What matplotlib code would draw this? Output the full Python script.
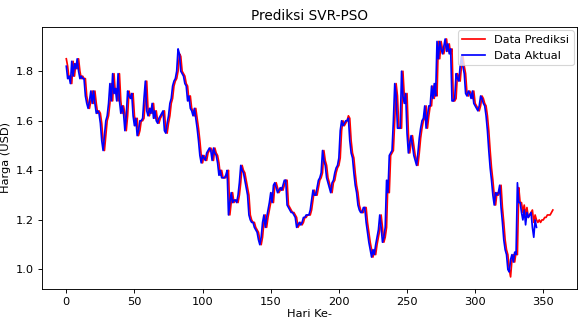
import numpy as np
import matplotlib
matplotlib.use("Agg")
import matplotlib.pyplot as plt

# harga aktual
aktual = [
    1.82, 1.77, 1.78, 1.75, 1.84, 1.78, 1.83, 1.81, 1.85, 1.80,
    1.77, 1.78, 1.77, 1.77, 1.70, 1.67, 1.65, 1.68, 1.72, 1.67,
    1.72, 1.67, 1.63, 1.64, 1.63, 1.59, 1.52, 1.48, 1.54, 1.60,
    1.62, 1.67, 1.75, 1.68, 1.79, 1.71, 1.73, 1.68, 1.79, 1.68,
    1.63, 1.66, 1.63, 1.56, 1.62, 1.72, 1.70, 1.69, 1.71, 1.62,
    1.58, 1.61, 1.54, 1.56, 1.60, 1.60, 1.61, 1.69, 1.76, 1.64,
    1.62, 1.65, 1.63, 1.67, 1.61, 1.64, 1.60, 1.59, 1.61, 1.62,
    1.63, 1.64, 1.56, 1.55, 1.59, 1.62, 1.67, 1.69, 1.74, 1.76,
    1.77, 1.80, 1.89, 1.87, 1.80, 1.79, 1.78, 1.75, 1.74, 1.68,
    1.70, 1.65, 1.64, 1.62, 1.65, 1.61, 1.57, 1.52, 1.46, 1.43,
    1.46, 1.45, 1.44, 1.47, 1.48, 1.49, 1.48, 1.44, 1.49, 1.47,
    1.46, 1.43, 1.38, 1.40, 1.37, 1.37, 1.37, 1.38, 1.40, 1.22,
    1.27, 1.31, 1.27, 1.28, 1.28, 1.27, 1.30, 1.35, 1.42, 1.40,
    1.39, 1.36, 1.33, 1.30, 1.22, 1.20, 1.19, 1.19, 1.17, 1.16,
    1.15, 1.12, 1.10, 1.13, 1.19, 1.22, 1.17, 1.21, 1.24, 1.27,
    1.31, 1.27, 1.34, 1.35, 1.33, 1.31, 1.32, 1.33, 1.32, 1.34,
    1.36, 1.36, 1.26, 1.25, 1.24, 1.23, 1.23, 1.22, 1.21, 1.17,
    1.18, 1.19, 1.18, 1.19, 1.21, 1.21, 1.22, 1.22, 1.22, 1.24,
    1.28, 1.32, 1.30, 1.30, 1.33, 1.36, 1.37, 1.39, 1.48, 1.44,
    1.42, 1.37, 1.35, 1.33, 1.31, 1.35, 1.36, 1.39, 1.41, 1.42,
    1.45, 1.56, 1.60, 1.58, 1.59, 1.60, 1.60, 1.61, 1.52, 1.47,
    1.45, 1.39, 1.34, 1.31, 1.26, 1.24, 1.23, 1.23, 1.25, 1.25,
    1.19, 1.15, 1.11, 1.08, 1.05, 1.08, 1.06, 1.10, 1.13, 1.16,
    1.22, 1.17, 1.11, 1.13, 1.17, 1.36, 1.31, 1.46, 1.47, 1.48,
    1.60, 1.75, 1.70, 1.57, 1.57, 1.57, 1.80, 1.70, 1.67, 1.71,
    1.55, 1.47, 1.51, 1.54, 1.50, 1.46, 1.44, 1.42, 1.47, 1.53,
    1.57, 1.60, 1.61, 1.66, 1.57, 1.62, 1.66, 1.66, 1.74, 1.69,
    1.75, 1.70, 1.92, 1.85, 1.92, 1.89, 1.87, 1.90, 1.93, 1.88,
    1.91, 1.87, 1.89, 1.68, 1.68, 1.69, 1.79, 1.77, 1.76, 1.82,
    1.86, 1.82, 1.79, 1.71, 1.70, 1.72, 1.71, 1.69, 1.72, 1.67,
    1.66, 1.65, 1.64, 1.66, 1.70, 1.69, 1.67, 1.66, 1.62, 1.56,
    1.48, 1.41, 1.36, 1.30, 1.26, 1.31, 1.30, 1.31, 1.34, 1.25,
    1.19, 1.12, 1.08, 1.06, 1.00, 0.99, 1.04, 1.06, 1.03, 1.07,
    1.06, 1.35, 1.27, 1.27, 1.23, 1.20, 1.24, 1.18, 1.23, 1.21,
    1.22, 1.23, 1.17, 1.13, 1.20, 1.17,
]

# harga prediksi SVR-PSO
prediksi = [
    1.85, 1.82, 1.77, 1.78, 1.75, 1.84, 1.78, 1.83, 1.81, 1.85,
    1.80, 1.77, 1.78, 1.77, 1.77, 1.70, 1.67, 1.65, 1.68, 1.72,
    1.67, 1.72, 1.67, 1.63, 1.64, 1.63, 1.59, 1.52, 1.48, 1.54,
    1.60, 1.62, 1.67, 1.75, 1.68, 1.79, 1.71, 1.73, 1.68, 1.79,
    1.68, 1.63, 1.66, 1.63, 1.56, 1.62, 1.72, 1.70, 1.69, 1.71,
    1.62, 1.58, 1.61, 1.54, 1.56, 1.60, 1.60, 1.61, 1.69, 1.76,
    1.64, 1.62, 1.65, 1.63, 1.67, 1.61, 1.64, 1.60, 1.59, 1.61,
    1.62, 1.63, 1.64, 1.56, 1.55, 1.59, 1.62, 1.67, 1.69, 1.74,
    1.76, 1.77, 1.80, 1.87, 1.86, 1.80, 1.79, 1.78, 1.75, 1.74,
    1.68, 1.70, 1.65, 1.64, 1.62, 1.65, 1.61, 1.57, 1.52, 1.46,
    1.43, 1.46, 1.45, 1.44, 1.47, 1.48, 1.49, 1.48, 1.44, 1.49,
    1.47, 1.46, 1.43, 1.38, 1.40, 1.37, 1.37, 1.37, 1.38, 1.40,
    1.22, 1.27, 1.31, 1.27, 1.28, 1.28, 1.27, 1.30, 1.35, 1.42,
    1.40, 1.39, 1.36, 1.33, 1.30, 1.22, 1.20, 1.19, 1.19, 1.17,
    1.16, 1.15, 1.12, 1.10, 1.13, 1.19, 1.22, 1.17, 1.21, 1.24,
    1.27, 1.31, 1.27, 1.34, 1.35, 1.33, 1.31, 1.32, 1.33, 1.32,
    1.34, 1.36, 1.36, 1.26, 1.25, 1.24, 1.23, 1.23, 1.22, 1.21,
    1.17, 1.18, 1.19, 1.18, 1.19, 1.21, 1.21, 1.22, 1.22, 1.22,
    1.24, 1.28, 1.32, 1.30, 1.30, 1.33, 1.36, 1.37, 1.39, 1.48,
    1.44, 1.42, 1.37, 1.35, 1.33, 1.31, 1.35, 1.36, 1.39, 1.41,
    1.42, 1.45, 1.56, 1.60, 1.58, 1.59, 1.60, 1.62, 1.61, 1.52,
    1.47, 1.45, 1.39, 1.34, 1.31, 1.26, 1.24, 1.23, 1.23, 1.25,
    1.25, 1.19, 1.15, 1.11, 1.08, 1.05, 1.08, 1.06, 1.10, 1.13,
    1.16, 1.22, 1.17, 1.11, 1.13, 1.17, 1.36, 1.31, 1.46, 1.47,
    1.48, 1.60, 1.75, 1.70, 1.57, 1.57, 1.57, 1.80, 1.70, 1.67,
    1.71, 1.55, 1.47, 1.51, 1.54, 1.50, 1.46, 1.44, 1.42, 1.47,
    1.53, 1.57, 1.60, 1.61, 1.66, 1.57, 1.62, 1.66, 1.66, 1.74,
    1.69, 1.75, 1.70, 1.92, 1.85, 1.92, 1.89, 1.87, 1.90, 1.93,
    1.88, 1.91, 1.87, 1.89, 1.68, 1.68, 1.69, 1.79, 1.77, 1.76,
    1.82, 1.86, 1.82, 1.79, 1.71, 1.70, 1.72, 1.71, 1.69, 1.72,
    1.67, 1.66, 1.65, 1.64, 1.66, 1.70, 1.69, 1.67, 1.66, 1.62,
    1.56, 1.48, 1.41, 1.36, 1.30, 1.26, 1.31, 1.30, 1.31, 1.34,
    1.25, 1.19, 1.12, 1.08, 1.06, 1.00, 0.97, 1.04, 1.06, 1.03,
    1.07, 1.06, 1.33, 1.27, 1.27, 1.23, 1.26, 1.22, 1.25, 1.21,
    1.22, 1.23, 1.24, 1.19, 1.22, 1.20, 1.19, 1.20, 1.19, 1.20,
    1.20, 1.21, 1.21, 1.22, 1.22, 1.22, 1.23, 1.24,
]

DPI = 82
fig, ax = plt.subplots(figsize=(583 / DPI, 322 / DPI), dpi=DPI)
fig.subplots_adjust(left=0.072, right=0.99, bottom=0.103, top=0.916)

ax.plot(np.arange(len(prediksi)), prediksi, color='red', label='Data Prediksi')
ax.plot(np.arange(len(aktual)), aktual, color='blue', label='Data Aktual')

ax.set_title('Prediksi SVR-PSO')
ax.set_xlabel('Hari Ke-', labelpad=2)
ax.set_ylabel('Harga (USD)')
ax.legend(loc='upper right', borderaxespad=0.3)

fig.savefig('out.png', dpi=DPI)
